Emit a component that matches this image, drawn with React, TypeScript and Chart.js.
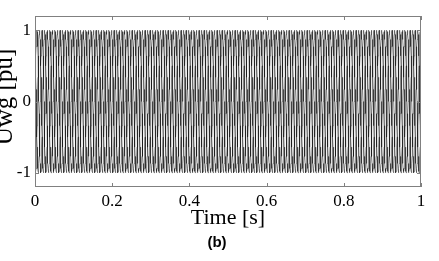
import React, { useEffect, useRef } from "react";
import { Chart, registerables } from "chart.js";

Chart.register(...registerables);

// ---- data ----
const xTicks = [0, 0.2, 0.4, 0.6, 0.8, 1];
const yTicks = [-1, 0, 1];
// one period of the grid voltage (pu), 10-degree steps
const cycleShape = [
  0, 0.17, 0.34, 0.5, 0.64, 0.77, 0.87, 0.94, 0.98, 1, 0.98, 0.94, 0.87, 0.77, 0.64, 0.5, 0.34, 0.17,
  0, -0.17, -0.34, -0.5, -0.64, -0.77, -0.87, -0.94, -0.98, -1, -0.98, -0.94, -0.87, -0.77, -0.64, -0.5, -0.34, -0.17,
];
const cyclesInWindow = 50; // 50 Hz over 1 s
const phaseShifts = [0, 12, 24]; // a, b, c phases (samples of cycleShape)
const xTitle = "Time [s]";
const yTitle = "Uwg [pu]";
const caption = "(b)";

function buildPhase(shift: number) {
  const n = cycleShape.length;
  const total = n * cyclesInWindow;
  const pts: { x: number; y: number }[] = [];
  for (let i = 0; i <= total; i++) {
    pts.push({ x: i / total, y: cycleShape[(i - shift + n * 4) % n] });
  }
  return pts;
}

const framePlugin = {
  id: "frame",
  afterDraw(chart: any) {
    const { ctx, chartArea, scales } = chart;
    const { left, right, top, bottom } = chartArea;
    const x = scales.x;
    const y = scales.y;
    ctx.save();
    ctx.strokeStyle = "#808080";
    ctx.lineWidth = 1;
    ctx.strokeRect(Math.round(left) + 0.5, Math.round(top) + 0.5, Math.round(right - left) - 1, Math.round(bottom - top) - 1);
    ctx.beginPath();
    xTicks.forEach((v) => {
      const px = Math.round(x.getPixelForValue(v)) + 0.5;
      ctx.moveTo(px, bottom);
      ctx.lineTo(px, bottom - 4);
      ctx.moveTo(px, top);
      ctx.lineTo(px, top + 4);
    });
    yTicks.forEach((v) => {
      const py = Math.round(y.getPixelForValue(v)) + 0.5;
      ctx.moveTo(left, py);
      ctx.lineTo(left + 4, py);
      ctx.moveTo(right, py);
      ctx.lineTo(right - 4, py);
    });
    ctx.stroke();

    ctx.fillStyle = "#000";
    ctx.textAlign = "center";
    ctx.textBaseline = "middle";
    ctx.font = '22px "Liberation Serif"';
    ctx.fillText(xTitle, (left + right) / 2, 218);
    ctx.save();
    ctx.translate(5, 97);
    ctx.rotate(-Math.PI / 2);
    ctx.font = '25px "Liberation Serif"';
    ctx.fillText(yTitle, 0, 0);
    ctx.restore();
    ctx.font = 'bold 15px "Liberation Sans"';
    ctx.fillText(caption, 217, 243);
    ctx.restore();
  },
};

export default function App() {
  const ref = useRef<HTMLCanvasElement>(null);
  useEffect(() => {
    if (!ref.current) return;
    const chart = new Chart(ref.current, {
      type: "line",
      data: {
        datasets: phaseShifts.map((s) => ({
          data: buildPhase(s),
          borderColor: "#000",
          borderWidth: 0.45,
          pointRadius: 0,
          fill: false,
          tension: 0,
        })),
      },
      options: {
        animation: false,
        responsive: false,
        devicePixelRatio: 1,
        parsing: false,
        normalized: true,
        layout: { padding: { top: 16, right: 18, left: 0, bottom: 0 } },
        plugins: { legend: { display: false }, tooltip: { enabled: false } },
        scales: {
          x: {
            type: "linear",
            min: 0,
            max: 1,
            afterBuildTicks: (s: any) => {
              s.ticks = xTicks.map((v) => ({ value: v }));
            },
            afterFit: (s: any) => {
              s.height = 74;
            },
            grid: { display: false, drawTicks: false },
            border: { display: false },
            ticks: {
              padding: 4,
              color: "#000",
              maxRotation: 0,
              font: { family: "Liberation Serif", size: 17 },
              callback: (v: any) => String(Number(Number(v).toFixed(1))),
            },
          },
          y: {
            type: "linear",
            min: -1.2,
            max: 1.2,
            afterBuildTicks: (s: any) => {
              s.ticks = yTicks.map((v) => ({ value: v }));
            },
            afterFit: (s: any) => {
              s.width = 35;
            },
            grid: { display: false, drawTicks: false },
            border: { display: false },
            ticks: {
              padding: 4,
              color: "#000",
              font: { family: "Liberation Serif", size: 17 },
              callback: (v: any) => String(v),
            },
          },
        },
      },
      plugins: [framePlugin],
    });
    return () => chart.destroy();
  }, []);
  return (
    <div style={{ position: "fixed", left: 0, top: 0, width: 439, height: 261, background: "#fff" }}>
      <canvas ref={ref} width={439} height={261} style={{ display: "block" }} />
    </div>
  );
}
